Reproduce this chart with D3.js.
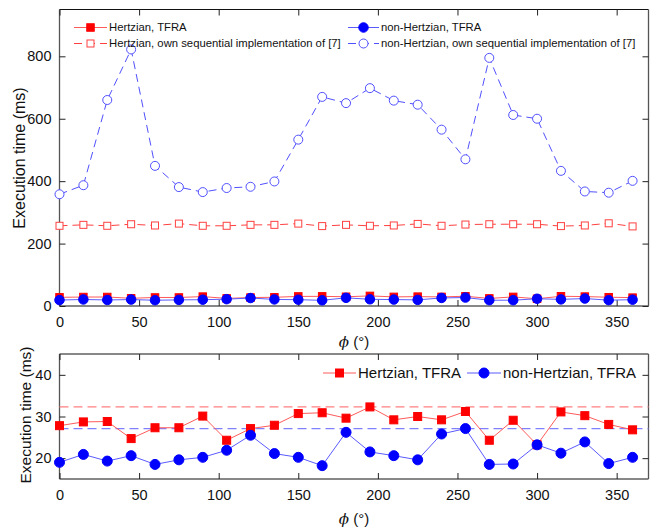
<!DOCTYPE html>
<html>
<head>
<meta charset="utf-8">
<script src="https://cdn.jsdelivr.net/npm/d3@7/dist/d3.min.js"></script>
<style>
  html, body { margin: 0; padding: 0; background: #fff; }
  svg { display: block; font-family: "Liberation Sans", Arial, sans-serif; }
</style>
</head>
<body>
<svg id="chart" width="650" height="529"></svg>
<script>
// Rotation angle phi (degrees)
const phi = [0, 15, 30, 45, 60, 75, 90, 105, 120, 135, 150, 165, 180,
             195, 210, 225, 240, 255, 270, 285, 300, 315, 330, 345, 360];

// Execution times (ms)
const hertzTFRA = [27.8, 28.7, 28.8, 24.7, 27.3, 27.3, 30.1, 24.3, 27.1, 27.9, 30.7, 30.9, 29.6,
                   32.3, 29.2, 30.0, 29.2, 31.2, 24.3, 29.1, 23.2, 31.1, 30.2, 28.1, 26.8];
const nonHertzTFRA = [19.0, 20.9, 19.3, 20.6, 18.5, 19.6, 20.2, 21.9, 25.5, 21.1, 20.2, 18.2, 26.2,
                      21.5, 20.6, 19.6, 25.8, 27.1, 18.5, 18.6, 23.2, 21.2, 23.9, 18.7, 20.2];
const hertzSeq = [257, 260, 257, 262, 258, 264, 257, 257, 260, 260, 264, 256, 260,
                  257, 258, 263, 257, 261, 262, 262, 262, 256, 258, 265, 255];
const nonHertzSeq = [358, 387, 660, 822, 449, 381, 365, 378, 382, 399, 533, 670, 650,
                     698, 658, 645, 565, 470, 795, 612, 600, 433, 367, 363, 401];

const xTicks = [0, 50, 100, 150, 200, 250, 300, 350];
const yTicksTop = [0, 200, 400, 600, 800];
const yTicksBottom = [20, 30, 40];

const svg = d3.select("#chart");

const C = {
  red: "#ff0000", redLine: "#ff5a5a", redDash: "#ff4040",
  blue: "#0000ff", blueLine: "#5a5aff", blueDash: "#5050ff",
  redRef: "#ff8080", blueRef: "#8080ff"
};

const L = 59.5, R = 648.5;

function panel(y0, y1, yDomain, yTicks) {
  const x = d3.scaleLinear().domain([0, 370]).range([L, R]);
  const y = d3.scaleLinear().domain(yDomain).range([y1, y0]);
  const g = svg.append("g");
  // frame
  g.append("line").attr("x1", L).attr("x2", R).attr("y1", y0).attr("y2", y0).attr("stroke", "#111");
  g.append("line").attr("x1", L).attr("x2", R).attr("y1", y1).attr("y2", y1).attr("stroke", "#111");
  g.append("line").attr("x1", L).attr("x2", L).attr("y1", y0).attr("y2", y1).attr("stroke", "#555").attr("stroke-width", 1.3);
  g.append("line").attr("x1", R).attr("x2", R).attr("y1", y0).attr("y2", y1).attr("stroke", "#555").attr("stroke-width", 1.3);

  // axes with inward ticks on all sides
  const ax = (gen, tr) => {
    const a = g.append("g").attr("transform", tr).call(gen);
    a.select(".domain").remove();
    a.selectAll(".tick line").attr("stroke", "#222");
    a.selectAll(".tick text").attr("font-size", "14.5px").attr("fill", "#111")
      .attr("font-family", '"Liberation Sans", Arial, sans-serif');
    return a;
  };
  ax(d3.axisBottom(x).tickValues(xTicks).tickSize(-6).tickPadding(11).tickFormat(d3.format("d")),
     `translate(0,${y1})`);
  ax(d3.axisTop(x).tickValues(xTicks).tickSize(-6).tickFormat(""), `translate(0,${y0})`);
  ax(d3.axisLeft(y).tickValues(yTicks).tickSize(-6).tickPadding(8).tickFormat(d3.format("d")),
     `translate(${L},0)`);
  ax(d3.axisRight(y).tickValues(yTicks).tickSize(-6).tickFormat(""), `translate(${R},0)`);
  return { x, y, g };
}

function series(p, vals, opt) {
  const data = phi.map((d, i) => [d, vals[i]]);
  const line = d3.line().x(d => p.x(d[0])).y(d => p.y(d[1]));
  p.g.append("path").datum(data).attr("d", line).attr("fill", "none")
    .attr("stroke", opt.line).attr("stroke-width", opt.lw || 1)
    .attr("stroke-dasharray", opt.dash || null);
  drawMarkers(p.g, data.map(d => [p.x(d[0]), p.y(d[1])]), opt);
}

function drawMarkers(g, pts, opt) {
  pts.forEach(([cx, cy]) => {
    if (opt.shape === "square") {
      const s = opt.size;
      g.append("rect").attr("x", cx - s / 2).attr("y", cy - s / 2).attr("width", s).attr("height", s)
        .attr("fill", opt.filled ? opt.mark : "#fff").attr("stroke", opt.mark).attr("stroke-width", 1);
    } else {
      g.append("circle").attr("cx", cx).attr("cy", cy).attr("r", opt.size / 2)
        .attr("fill", opt.filled ? opt.mark : "#fff").attr("stroke", opt.mark).attr("stroke-width", 1);
    }
  });
}

function legendItem(g, x0, x1, yy, text, opt, fs) {
  g.append("line").attr("x1", x0).attr("x2", x1).attr("y1", yy).attr("y2", yy)
    .attr("stroke", opt.line).attr("stroke-width", opt.lw || 1).attr("stroke-dasharray", opt.dash || null);
  drawMarkers(g, [[(x0 + x1) / 2, yy]], opt);
  g.append("text").attr("x", x1 + 2).attr("y", yy).attr("dy", "0.35em")
    .attr("font-size", fs).attr("fill", "#111").text(text);
}

function yLabel(cx, cy, fs) {
  svg.append("text").attr("transform", `translate(${cx},${cy}) rotate(-90)`)
    .attr("text-anchor", "middle").attr("dy", "0.35em").attr("font-size", fs).attr("fill", "#111")
    .text("Execution time (ms)");
}
function xLabel(cx, cy, fs) {
  const t = svg.append("text").attr("x", cx).attr("y", cy).attr("text-anchor", "middle")
    .attr("dy", "0.35em").attr("font-size", fs).attr("fill", "#111");
  t.append("tspan").attr("font-family", '"DejaVu Serif", serif').attr("font-style", "italic").text("ϕ");
  t.append("tspan").text(" (°)");
}

// ---- upper panel: all four series
const upper = panel(9.5, 306, [0, 950], yTicksTop);
const sHS = { line: C.redDash, mark: C.redDash, dash: "8,5", shape: "square", size: 7, filled: false };
const sNS = { line: C.blueDash, mark: C.blueDash, dash: "8,5", shape: "circle", size: 9, filled: false };
const sHT = { line: C.redLine, mark: C.red, shape: "square", size: 7.5, filled: true };
const sNT = { line: C.blueLine, mark: C.blue, shape: "circle", size: 9.5, filled: true };
series(upper, hertzSeq, sHS);
series(upper, nonHertzSeq, sNS);
series(upper, hertzTFRA, sHT);
series(upper, nonHertzTFRA, sNT);

legendItem(upper.g, 74, 107, 27.5, "Hertzian, TFRA", sHT, "11.3px");
legendItem(upper.g, 74, 107, 43.5, "Hertzian, own sequential implementation of [7]", sHS, "11.3px");
legendItem(upper.g, 348, 379, 27.5, "non-Hertzian, TFRA", sNT, "11.3px");
legendItem(upper.g, 348, 379, 43.5, "non-Hertzian, own sequential implementation of [7]", sNS, "11.3px");

yLabel(19, 158, "16px");
xLabel(354, 342, "15px");

// ---- lower panel: TFRA only, with reference lines at the series maxima
const lower = panel(354, 479, [15, 45], yTicksBottom);
[[d3.max(hertzTFRA), C.redRef], [d3.max(nonHertzTFRA), C.blueRef]].forEach(([v, col]) => {
  lower.g.append("line").attr("x1", L).attr("x2", R).attr("y1", lower.y(v)).attr("y2", lower.y(v))
    .attr("stroke", col).attr("stroke-width", 1.2).attr("stroke-dasharray", "9,5");
});
const bHT = { line: C.redLine, mark: C.red, shape: "square", size: 8, filled: true };
const bNT = { line: C.blueLine, mark: C.blue, shape: "circle", size: 10, filled: true };
series(lower, hertzTFRA, bHT);
series(lower, nonHertzTFRA, bNT);

legendItem(lower.g, 323, 356, 373, "Hertzian, TFRA", bHT, "15px");
legendItem(lower.g, 467, 501, 373, "non-Hertzian, TFRA", bNT, "15px");

yLabel(26, 415, "15.5px");
xLabel(354, 519, "15px");
</script>
</body>
</html>
